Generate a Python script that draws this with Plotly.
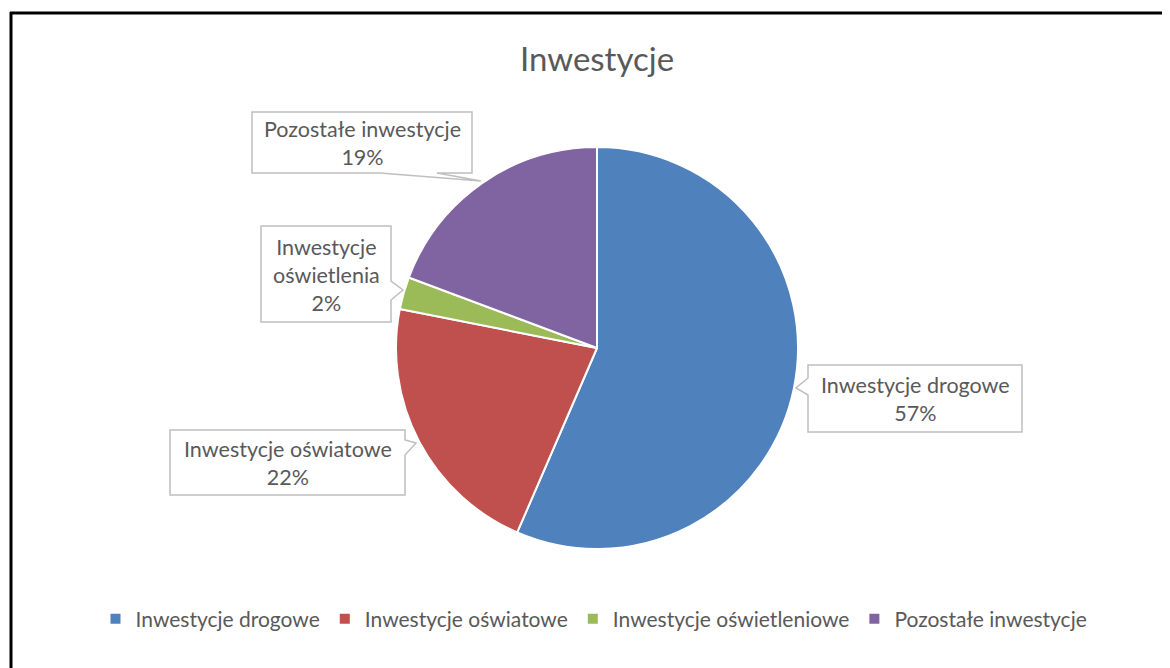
import plotly.graph_objects as go

W, H = 1170, 668
OFF = 8  # page body margin in the browser

categories = ["Inwestycje drogowe", "Inwestycje oświatowe", "Inwestycje oświetleniowe", "Pozostałe inwestycje"]
values = [56.5, 21.6, 2.6, 19.3]
slice_labels = ["Inwestycje drogowe<br>57%", "Inwestycje oświatowe<br>22%", "Inwestycje<br>oświetlenia<br>2%", "Pozostałe inwestycje<br>19%"]
colors = ["#4F81BD", "#C0504D", "#9BBB59", "#8064A2"]

FONT = "Lato"
TXT = "#595959"

def px(x):
    return (x - OFF) / W

def py(y):
    return 1 - (y - OFF) / H

# pie placement (pixels)
cx, cy, r = 597, 348, 201

fig = go.Figure(go.Pie(
    labels=categories, values=values, sort=False, direction="clockwise", rotation=0,
    marker=dict(colors=colors, line=dict(color="white", width=2)),
    textinfo="none", hoverinfo="label+percent",
    domain=dict(x=[px(cx - r), px(cx + r)], y=[py(cy + r), py(cy - r)]),
))

# callout boxes: polygon in pixel coords, text center, label index
callouts = [
    ([(252, 112), (472, 112), (472, 173), (437, 173), (481, 181), (380, 173), (252, 173)], (362, 143), 3),
    ([(261, 226), (391, 226), (391, 281), (403, 290), (391, 300), (391, 322), (261, 322)], (326, 275), 2),
    ([(170, 430), (405, 430), (405, 440), (416, 443), (405, 455), (405, 495), (170, 495)], (288, 463), 1),
    ([(808, 365), (1022, 365), (1022, 432), (808, 432), (808, 395), (796, 388), (808, 378)], (915, 399), 0),
]

shapes = []
annotations = []
for pts, (tx, ty), idx in callouts:
    path = "M " + " L ".join(f"{px(x)},{py(y)}" for x, y in pts) + " Z"
    shapes.append(dict(type="path", path=path, xref="paper", yref="paper",
                       fillcolor="white", line=dict(color="#BFBFBF", width=1.5), layer="above"))
    annotations.append(dict(text=slice_labels[idx], x=px(tx), y=py(ty), xref="paper", yref="paper",
                            showarrow=False, xanchor="center", yanchor="middle",
                            font=dict(family=FONT, size=21.5, color=TXT), align="center"))

# outer frame (top and left)
shapes.append(dict(type="line", xref="paper", yref="paper", x0=px(10), x1=1, y0=py(13), y1=py(13),
                   line=dict(color="black", width=3)))
shapes.append(dict(type="line", xref="paper", yref="paper", x0=px(11), x1=px(11), y0=py(12), y1=0,
                   line=dict(color="black", width=3)))

fig.update_layout(
    width=W, height=H, margin=dict(l=0, r=0, t=0, b=0),
    paper_bgcolor="white", plot_bgcolor="white",
    title=dict(text="Inwestycje", x=px(597), y=py(59), xanchor="center", yanchor="middle",
               font=dict(family=FONT, size=33, color=TXT)),
    showlegend=True,
    legend=dict(orientation="h", x=px(594), xanchor="center", y=py(619), yanchor="middle",
                font=dict(family=FONT, size=21, color=TXT), itemwidth=30, traceorder="normal"),
    shapes=shapes, annotations=annotations,
)

fig.write_html("out.html")
